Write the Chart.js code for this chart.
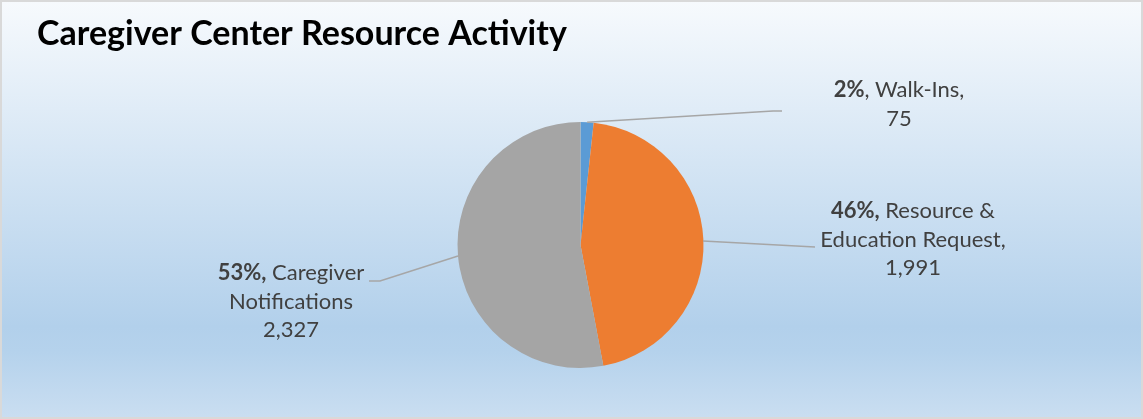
<!DOCTYPE html>
<html>
<head>
<meta charset="utf-8">
<script src="https://cdn.jsdelivr.net/npm/chart.js@4.4.0/dist/chart.umd.min.js"></script>
<style>
  html, body { margin: 0; padding: 0; background: #ffffff; }
  #wrap { width: 1143px; height: 419px; position: relative; }
</style>
</head>
<body>
<div id="wrap"><canvas id="c" width="1143" height="419"></canvas></div>
<script>
const categories = ['Walk-Ins', 'Resource & Education Request', 'Caregiver Notifications'];
const values = [75, 1991, 2327];
const percentLabels = ['2%', '46%', '53%'];
const valueLabels = ['75', '1,991', '2,327'];
const colors = ['#5b9bd5', '#ed7d31', '#a5a5a5'];
const titleText = 'Caregiver Center Resource Activity';

// label text lines: [bold part, normal part] per line
const labelLines = [
  [[percentLabels[0], ', Walk-Ins,'], ['', valueLabels[0]]],
  [[percentLabels[1] + ',', ' Resource &'], ['', 'Education Request,'], ['', valueLabels[1]]],
  [[percentLabels[2] + ',', ' Caregiver'], ['', 'Notifications'], ['', valueLabels[2]]]
];

// label placement (centre x, first line y) and leader-line end points
const labelLayout = [
  { x: 899, y: 90, anchorAngleFrac: 0.5, end: [773, 111], tail: [782, 111] },
  { x: 913, y: 211, anchorAngleFrac: null, anchorPt: [703, 241], end: [815, 247], tail: null },
  { x: 291, y: 273, anchorAngleFrac: null, anchorPt: [458, 256], end: [380, 281], tail: [369, 281] }
];

const bgPlugin = {
  id: 'bg',
  beforeDraw(chart) {
    const ctx = chart.ctx;
    const W = chart.width, H = chart.height;
    ctx.save();
    ctx.fillStyle = '#ffffff';
    ctx.fillRect(0, 0, W, H);
    const g = ctx.createLinearGradient(0, 0, 0, H);
    g.addColorStop(0, '#f7fafd');
    g.addColorStop(0.78, '#b2d0eb');
    g.addColorStop(0.84, '#b5d2ec');
    g.addColorStop(1, '#cadef1');
    ctx.fillStyle = g;
    ctx.fillRect(1, 1, W - 2, H - 2);
    ctx.strokeStyle = '#d9d9d9';
    ctx.lineWidth = 2;
    ctx.strokeRect(1, 1, W - 2, H - 2);
    ctx.restore();
  }
};

const labelPlugin = {
  id: 'sliceLabels',
  afterDatasetsDraw(chart) {
    const ctx = chart.ctx;
    const meta = chart.getDatasetMeta(0);
    ctx.save();
    // leader lines
    ctx.strokeStyle = '#a6a6a6';
    ctx.lineWidth = 1.5;
    meta.data.forEach((arc, i) => {
      const L = labelLayout[i];
      let ax, ay;
      if (L.anchorAngleFrac !== null) {
        const p = arc.getProps(['x', 'y', 'startAngle', 'endAngle', 'outerRadius'], true);
        const a = p.startAngle + (p.endAngle - p.startAngle) * L.anchorAngleFrac;
        ax = p.x + Math.cos(a) * p.outerRadius;
        ay = p.y + Math.sin(a) * p.outerRadius;
      } else {
        ax = L.anchorPt[0]; ay = L.anchorPt[1];
      }
      ctx.beginPath();
      ctx.moveTo(ax, ay);
      ctx.lineTo(L.end[0], L.end[1]);
      if (L.tail) ctx.lineTo(L.tail[0], L.tail[1]);
      ctx.stroke();
    });
    // text
    ctx.fillStyle = '#404040';
    ctx.textBaseline = 'middle';
    const size = 22;
    const boldFont = 'bold ' + size + 'px Lato';
    const normFont = size + 'px Lato';
    labelLines.forEach((lines, i) => {
      const L = labelLayout[i];
      lines.forEach((parts, j) => {
        const y = L.y + j * 28.5;
        ctx.font = boldFont;
        const wb = parts[0] ? ctx.measureText(parts[0]).width : 0;
        ctx.font = normFont;
        const wn = ctx.measureText(parts[1]).width;
        let x = L.x - (wb + wn) / 2;
        ctx.textAlign = 'left';
        if (parts[0]) {
          ctx.font = boldFont;
          ctx.fillText(parts[0], x, y);
        }
        ctx.font = normFont;
        ctx.fillText(parts[1], x + wb, y);
      });
    });
    ctx.restore();
  }
};

new Chart(document.getElementById('c'), {
  type: 'pie',
  data: {
    labels: categories,
    datasets: [{
      data: values,
      backgroundColor: colors,
      borderWidth: 0
    }]
  },
  options: {
    responsive: false,
    animation: false,
    layout: { padding: { left: 37, right: 19, top: 0, bottom: 51 } },
    plugins: {
      legend: { display: false },
      tooltip: { enabled: false },
      title: {
        display: true,
        text: titleText,
        align: 'start',
        color: '#000000',
        font: { family: 'Lato', size: 34, weight: 'bold', lineHeight: 1.2 },
        padding: { top: 13.6, bottom: 67.6 }
      }
    }
  },
  plugins: [bgPlugin, labelPlugin]
});
</script>
</body>
</html>
